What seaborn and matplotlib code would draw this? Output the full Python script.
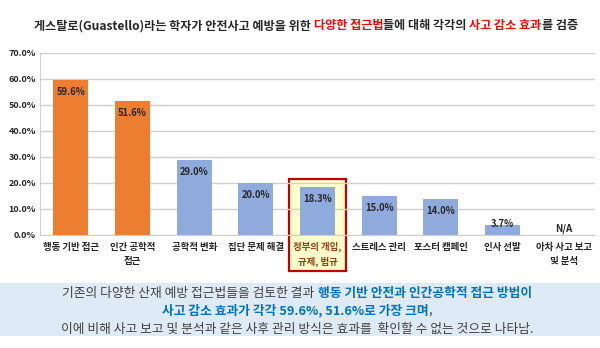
import matplotlib
matplotlib.use("Agg")
import matplotlib.pyplot as plt
import seaborn as sns
import pandas as pd
import numpy as np
from matplotlib.offsetbox import TextArea, HPacker, AnnotationBbox
from matplotlib.patches import Rectangle

categories = ["행동 기반 접근", "인간 공학적\n접근", "공학적 변화", "집단 문제 해결",
              "정부의 개입,\n규제, 법규", "스트레스 관리", "포스터 캠페인", "인사 선발",
              "아차 사고 보고\n및 분석"]
values = [59.6, 51.6, 29.0, 20.0, 18.3, 15.0, 14.0, 3.7, np.nan]
groups = ["top", "top", "other", "other", "other", "other", "other", "other", "other"]
value_labels = ["59.6%", "51.6%", "29.0%", "20.0%", "18.3%", "15.0%", "14.0%", "3.7%", "N/A"]
yticks = [0, 10, 20, 30, 40, 50, 60, 70]
highlight = "정부의 개입,\n규제, 법규"

title_parts = [("게스탈로(Guastello)라는 학자가 안전사고 예방을 위한 ", "#262626"),
               ("다양한 접근법", "#FF0000"),
               ("들에 대해 각각의 ", "#262626"),
               ("사고 감소 효과", "#FF0000"),
               ("를 검증", "#262626")]
note_lines = [
    [("기존의 다양한 산재 예방 접근법들을 검토한 결과 ", "#404040", "normal"),
     ("행동 기반 안전과 인간공학적 접근 방법이", "#0070C0", "bold")],
    [("사고 감소 효과가 각각 59.6%, 51.6%로 가장 크며", "#0070C0", "bold"),
     (",", "#404040", "normal")],
    [("이에 비해 사고 보고 및 분석과 같은 사후 관리 방식은 효과를  확인할 수 없는 것으로 나타남.", "#404040", "normal")],
]

sns.set_style("white")
plt.rcParams['font.family'] = ['Noto Sans CJK KR', 'DejaVu Sans']

W, H = 600, 348
fig = plt.figure(figsize=(6, 3.48), dpi=100)

def fx(px):
    return px / W
def fy(py):
    return 1 - py / H

ax_l, ax_r, ax_t, ax_b = 40, 595, 53, 235
ax = fig.add_axes([fx(ax_l), fy(ax_b), fx(ax_r - ax_l), (ax_b - ax_t) / H])

df = pd.DataFrame({"cat": categories, "val": values, "grp": groups})
palette = {"top": "#ED7D31", "other": "#8FAADC"}

# highlight box (behind bars): pixel rows 179..271 converted to data units
hi_idx = categories.index(highlight)
px_per_val = (ax_b - ax_t) / 70
box_top_val = (ax_b - 179) / px_per_val
box_bot_val = (ax_b - 271) / px_per_val
ax.add_patch(Rectangle((hi_idx - 0.47, box_bot_val), 0.94, box_top_val - box_bot_val,
                       facecolor="#FFFFCC", edgecolor="#C00000", linewidth=1.6,
                       clip_on=False, zorder=0.5))

sns.barplot(data=df, x="cat", y="val", hue="grp", palette=palette, dodge=False,
            width=0.57, legend=False, ax=ax, zorder=2, saturation=1, linewidth=0)

ax.set_ylim(0, 70)
ax.set_xlim(-0.5, len(categories) - 0.5)
ax.set_yticks(yticks)
ax.set_yticklabels([f"{t:.1f}%" for t in yticks], fontsize=6.5, fontweight="bold", color="#262626")
ax.set_xticks(range(len(categories)))
ax.set_xticklabels(categories, fontsize=6.8, fontweight="bold", color="#262626", linespacing=1.55)
for lbl in ax.get_xticklabels():
    if lbl.get_text() == highlight:
        lbl.set_color("#9C3B12")
ax.tick_params(axis="both", length=0, pad=3)
ax.tick_params(axis="x", pad=5)
ax.set_xlabel("")
ax.set_ylabel("")
ax.yaxis.grid(True, color="#D0D0D0", linewidth=1.0)
ax.set_axisbelow(True)
for s in ["top", "right"]:
    ax.spines[s].set_visible(False)
ax.spines["left"].set_color("#D0D0D0")
ax.spines["bottom"].set_color("#D0D0D0")
ax.patch.set_alpha(0)

for i, (v, lab) in enumerate(zip(values, value_labels)):
    if np.isnan(v):
        ax.annotate(lab, (i, 0), xytext=(0, 6), textcoords="offset pixels",
                    ha="center", va="center", fontsize=7, fontweight="bold", color="#262626")
    else:
        off = -12 if v > 6 else 1
        ax.annotate(lab, (i, v), xytext=(0, off), textcoords="offset pixels",
                    ha="center", va="center", fontsize=6.8, fontweight="bold", color="#262626", zorder=3)

def rich_line(parts, x_px, y_px, size, default_weight="bold"):
    boxes = []
    for p in parts:
        txt, col = p[0], p[1]
        wt = p[2] if len(p) > 2 else default_weight
        boxes.append(TextArea(txt, textprops=dict(color=col, fontsize=size, fontweight=wt,
                                                  family=['Noto Sans CJK KR', 'DejaVu Sans'])))
    pack = HPacker(children=boxes, align="baseline", pad=0, sep=0)
    ab = AnnotationBbox(pack, (fx(x_px), fy(y_px)), xycoords="figure fraction",
                        frameon=False, box_alignment=(0.5, 0.5), pad=0)
    fig.add_artist(ab)

rich_line(title_parts, 306, 26, 8.7)

# bottom note box
fig.add_artist(Rectangle((0, fy(336)), 1, (336 - 283) / H, transform=fig.transFigure,
                         facecolor="#DEEBF7", edgecolor="none", zorder=0))
for line, yy in zip(note_lines, [293, 311, 329]):
    rich_line(line, 297, yy, 9.2)

fig.savefig("out.png", dpi=100, facecolor="white")
